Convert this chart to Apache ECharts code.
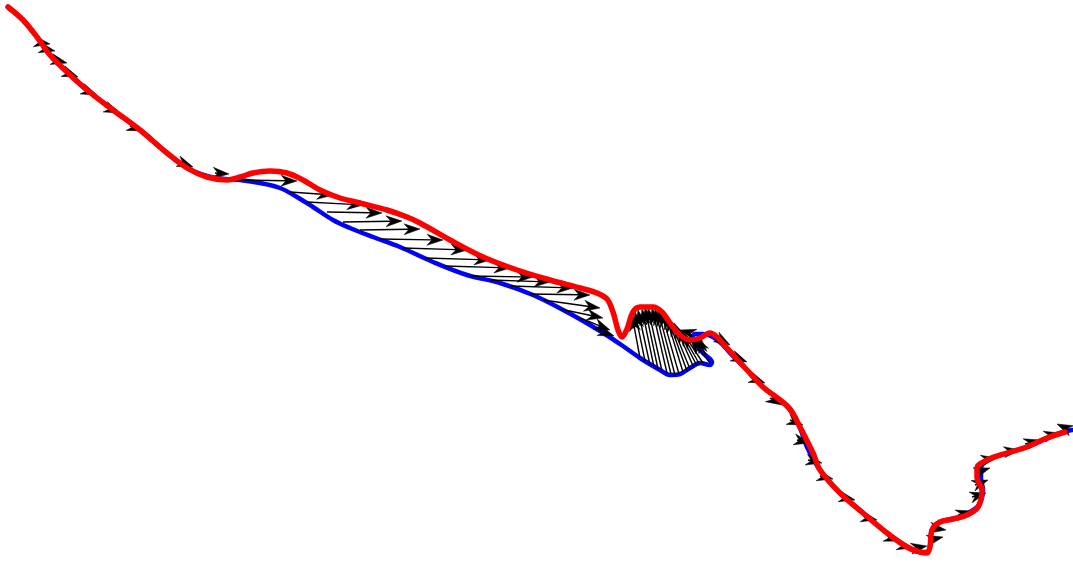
<!DOCTYPE html>
<html>
<head>
<meta charset="utf-8">
<script src="https://cdn.jsdelivr.net/npm/echarts@6/dist/echarts.min.js"></script>
<style>html,body{margin:0;padding:0;background:#fff}#c{width:1073px;height:563px}</style>
</head>
<body>
<div id="c"></div>
<script>
// Blue (source) curve
const blueX = [8,23,37,50,67,87,113,140,167,187,207,225,240,260,280,297,313,333,350,373,400,433,467,500,533,567,600,620,640,660,670,680,690,700,710,712,703,697,692,695,703,713,723,730,747,763,780,790,800,807,820,840,863,887,907,920,927,930,932,940,960,970,979,983,981,981,988,1007,1027,1047,1063,1072];
const blueY = [7,20,37,55,72,90,110,130,153,168,176,179,180,183,188,197,207,220,228,237,247,262,275,283,295,312,331,344,358,370,375,374,368,363,365,362,353,345,338,334,334,337,345,353,370,387,400,410,428,447,470,493,513,533,547,552,552,546,530,522,517,512,505,490,478,468,460,453,447,438,432,430];
// Red (target) curve
const redX = [8,23,37,50,67,87,113,140,167,187,207,227,240,253,270,287,303,320,340,360,387,407,420,450,483,517,550,580,597,607,613,618,622,627,633,640,653,662,670,680,690,700,710,717,727,747,763,780,790,800,813,820,840,863,887,907,920,927,930,932,940,953,967,978,982,977,977,987,1007,1027,1047,1065];
const redY = [7,20,37,55,72,90,110,130,153,168,177,180,177,173,171,173,180,190,198,203,210,217,223,240,257,270,280,288,293,299,312,330,337,329,312,307,307,312,323,335,340,338,333,337,348,370,387,400,409,427,453,470,493,513,533,547,552,553,547,530,522,519,515,507,490,478,468,460,453,447,438,432];
// Displacement arrows (tail -> tip)
const arrowX0 = [38,42,55,65,85,108,130,180,215, 240,290,307,327,343,360,380,403,425,445,470,490,510,530,543,560,580,598, 640,645,650,654,658,662,667,671,675,679,683,687,690,694,697,700,703,710,706,701, 690,718,735,752,770,790,797,808,820,842,864,888,900,915,930,933,958,972,975,978,985,1005,1025,1047,1070];
const arrowY0 = [42,48,60,72,90,108,126,162,173, 180,192,202,212,222,230,239,248,258,266,276,280,286,294,300,309,318,330, 358,361,365,367,369,371,373,374,375,374,372,371,369,368,366,365,363,363,355,347, 333,338,357,378,398,420,440,460,476,497,517,537,545,548,540,528,515,497,485,472,460,452,444,436,430];
const arrowX1 = [50,55,67,78,97,120,143,193,229, 297,333,363,382,402,420,443,467,490,510,533,550,573,590,600,603,610,614, 632,635,638,642,645,648,652,655,658,661,665,667,670,674,677,680,683,690,696,700, 680,730,747,765,782,803,810,822,833,855,877,900,913,927,943,946,972,986,988,990,997,1020,1040,1060,1057];
const arrowY1 = [44,51,63,77,95,113,131,167,174, 181,195,205,213,221,229,240,250,260,268,277,282,288,295,308,318,330,336, 315,312,310,309,308,308,308,309,310,311,313,316,320,323,327,330,333,338,337,336, 330,345,362,383,405,425,443,463,479,500,520,541,548,546,537,530,511,493,480,468,458,450,440,433,424];

const arrows = arrowX0.map((x, i) => [x, arrowY0[i], arrowX1[i], arrowY1[i]]);

const chart = echarts.init(document.getElementById('c'), null, {renderer: 'canvas'});
chart.setOption({
  animation: false,
  backgroundColor: '#ffffff',
  grid: {left: 0, right: 0, top: 0, bottom: 0},
  xAxis: {type: 'value', min: 0, max: 1073, show: false},
  yAxis: {type: 'value', min: 0, max: 563, inverse: true, show: false},
  series: [
    {
      type: 'line', name: 'source',
      data: blueX.map((x, i) => [x, blueY[i]]),
      showSymbol: false, smooth: 0.35,
      lineStyle: {color: '#0000ff', width: 4.5, cap: 'round', join: 'round'},
      z: 1
    },
    {
      type: 'custom', name: 'displacement',
      data: arrows,
      encode: {x: [0, 2], y: [1, 3]},
      renderItem: function (params, api) {
        const p0 = api.coord([api.value(0), api.value(1)]);
        const p1 = api.coord([api.value(2), api.value(3)]);
        let dx = p1[0] - p0[0], dy = p1[1] - p0[1];
        const len = Math.sqrt(dx * dx + dy * dy) || 1;
        dx /= len; dy /= len;
        const nx = -dy, ny = dx;
        const L = 16, W = 5.5, N = 11;
        const children = [];
        if (len > N) {
          children.push({
            type: 'line',
            shape: {x1: p0[0], y1: p0[1], x2: p1[0] - dx * N, y2: p1[1] - dy * N},
            style: {stroke: '#000', lineWidth: 1.4}
          });
        }
        children.push({
          type: 'polygon',
          shape: {points: [
            [p1[0], p1[1]],
            [p1[0] - dx * L + nx * W, p1[1] - dy * L + ny * W],
            [p1[0] - dx * N, p1[1] - dy * N],
            [p1[0] - dx * L - nx * W, p1[1] - dy * L - ny * W]
          ]},
          style: {fill: '#000', stroke: '#000', lineWidth: 0.5}
        });
        return {type: 'group', children: children};
      },
      z: 2
    },
    {
      type: 'line', name: 'target',
      data: redX.map((x, i) => [x, redY[i]]),
      showSymbol: false, smooth: 0.35,
      lineStyle: {color: '#ff0000', width: 5.5, cap: 'round', join: 'round'},
      z: 3
    }
  ]
});
</script>
</body>
</html>
